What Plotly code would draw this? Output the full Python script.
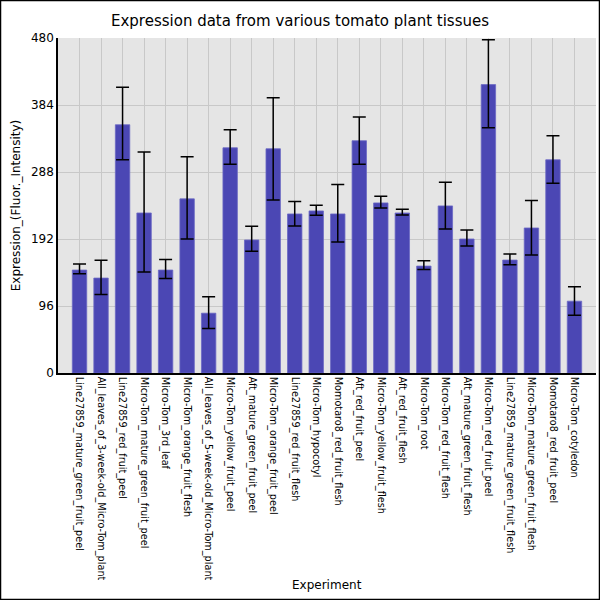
import plotly.graph_objects as go

# tissue names, in chart order
experiments = [
    "Line27859_mature_green_fruit_peel",
    "All_leaves_of_3-week-old_Micro-Tom_plant",
    "Line27859_red_fruit_peel",
    "Micro-Tom_mature_green_fruit_peel",
    "Micro-Tom_3rd_leaf",
    "Micro-Tom_orange_fruit_flesh",
    "All_leaves_of_5-week-old_Micro-Tom_plant",
    "Micro-Tom_yellow_fruit_peel",
    "Aft_mature_green_fruit_peel",
    "Micro-Tom_orange_fruit_peel",
    "Line27859_red_fruit_flesh",
    "Micro-Tom_hypocotyl",
    "Momotaro8_red_fruit_flesh",
    "Aft_red_fruit_peel",
    "Micro-Tom_yellow_fruit_flesh",
    "Aft_red_fruit_flesh",
    "Micro-Tom_root",
    "Micro-Tom_red_fruit_flesh",
    "Aft_mature_green_fruit_flesh",
    "Micro-Tom_red_fruit_peel",
    "Line27859_mature_green_fruit_flesh",
    "Micro-Tom_mature_green_fruit_flesh",
    "Momotaro8_red_fruit_peel",
    "Micro-Tom_cotyledon",
]

# mean expression
expression = [147.5, 136.0, 355.7, 229.3, 147.5, 249.5, 85.7, 322.7,
              190.6, 321.3, 227.9, 232.2, 227.9, 332.8, 243.7, 229.3,
              153.2, 239.4, 192.0, 413.2, 161.8, 207.8, 305.5, 102.9]

# error bar extents (above / below the mean)
err_plus = [8.6, 25.4, 53.7, 87.2, 15.3, 60.3, 23.5, 25.9,
            19.6, 73.2, 17.7, 8.2, 42.1, 34.0, 9.6, 5.3,
            7.7, 34.0, 12.9, 64.2, 8.7, 39.3, 34.5, 20.6]
err_minus = [5.3, 23.5, 50.2, 84.7, 12.0, 57.5, 22.0, 23.5,
             16.3, 73.3, 17.2, 6.2, 40.2, 33.6, 7.2, 2.8,
             4.8, 33.0, 10.1, 61.8, 6.7, 38.8, 33.5, 20.1]

y_ticks = [0, 96, 192, 288, 384, 480]

fig = go.Figure()
fig.add_trace(go.Bar(
    x=list(range(len(experiments))),
    y=expression,
    marker=dict(color="#4b47b4", line=dict(color="#6b68c4", width=0.8)),
    error_y=dict(
        type="data", symmetric=False,
        array=err_plus, arrayminus=err_minus,
        color="black", thickness=1.5, width=6.5,
    ),
    showlegend=False,
))

fig.update_xaxes(
    range=[-1, len(experiments)],
    tickmode="array",
    tickvals=list(range(len(experiments))),
    ticktext=experiments,
    tickangle=90,
    tickfont=dict(family="DejaVu Sans", size=9.7, color="black"),
    showgrid=True, gridcolor="#c8c8c8", gridwidth=1,
    showline=True, linecolor="black", linewidth=1.5,
    ticks="", zeroline=False, automargin=False,
)
fig.update_yaxes(
    range=[0, 480],
    tickmode="array",
    tickvals=y_ticks,
    ticktext=[str(v) for v in y_ticks],
    tickfont=dict(family="DejaVu Sans", size=12, color="black"),
    showgrid=True, gridcolor="#c8c8c8", gridwidth=1,
    showline=True, linecolor="black", linewidth=1.5,
    ticks="", zeroline=False, automargin=False,
    title=dict(text="Expression_(Fluor._Intensity)", font=dict(family="DejaVu Sans", size=12, color="black"), standoff=8),
)

pw, ph = 538, 335
fig.update_layout(
    width=600, height=600,
    margin=dict(l=58, r=4, t=38, b=227),
    title=dict(text="Expression data from various tomato plant tissues",
               x=0.5, xanchor="center", y=0.965, yanchor="middle",
               font=dict(family="DejaVu Sans", size=15, color="black")),
    plot_bgcolor="#e5e5e5",
    paper_bgcolor="white",
    bargap=0.33,
    # x axis title sits lower than plotly would put it without automargin
    annotations=[dict(text="Experiment", xref="paper", yref="paper",
                      x=0.5, y=-212 / ph, xanchor="center", yanchor="middle",
                      showarrow=False,
                      font=dict(family="DejaVu Sans", size=12, color="black"))],
    shapes=[dict(type="rect", xref="paper", yref="paper",
                 x0=-57.5 / pw, x1=1 + 3.5 / pw, y0=-226.5 / ph, y1=1 + 37.5 / ph,
                 line=dict(color="black", width=1.5), layer="above")],
)

# drop the page's default body margin so the figure sits at 0,0
fig.write_html("out.html", config={"displayModeBar": False},
               post_script="document.body.style.margin='0';")
